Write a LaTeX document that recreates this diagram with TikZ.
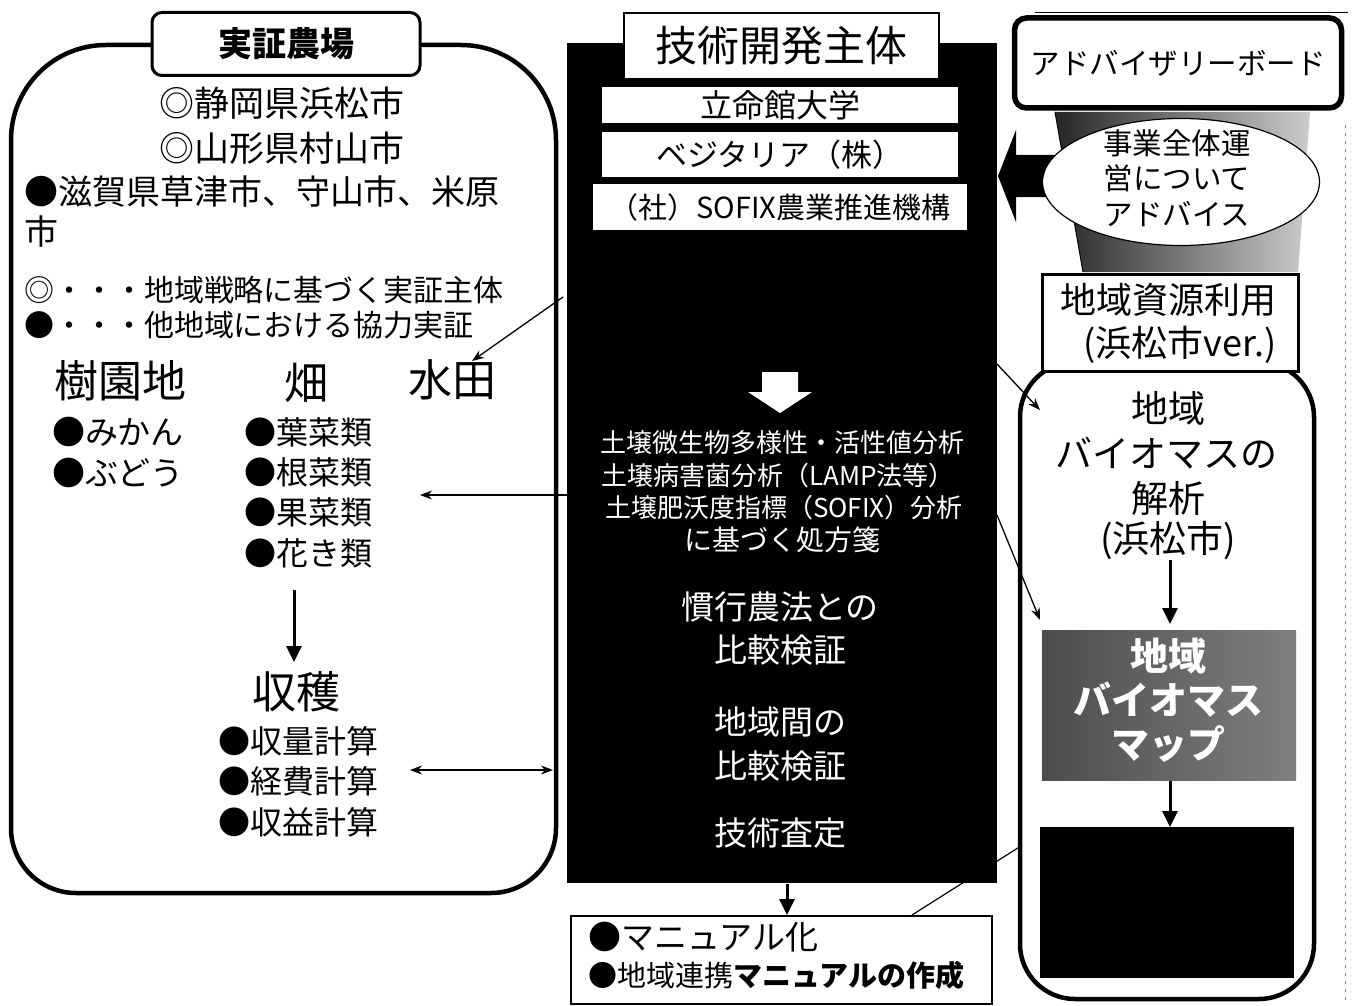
\documentclass[tikz,border=0pt]{standalone}
\usepackage{fontspec}
\setmainfont{Noto Sans CJK JP}
\usetikzlibrary{arrows.meta,shapes.geometric}
\newcommand\fsz[1]{\fontsize{#1}{#1}\selectfont}
\newcommand\fszb[2]{\fontsize{#1}{#2}\selectfont}
\tikzset{
  txt/.style={inner sep=0pt, outer sep=0pt},
  wtxt/.style={txt, text=white},
  thinarrow/.style={line width=1.3pt, -{Stealth[length=12pt,width=9pt]}},
  dblarrow/.style={line width=1.3pt, {Stealth[length=12pt,width=9pt]}-{Stealth[length=12pt,width=9pt]}},
  thickarrow/.style={line width=3pt, -{Triangle[length=16pt,width=15pt]}},
  whitebar/.style={fill=white, inner sep=0pt, minimum width=356pt},
}
\begin{document}
\begin{tikzpicture}[x=1pt,y=-1pt]
\path[use as bounding box, fill=white] (0,0) rectangle (1358,1006);

% decorations at the right margin
\coordinate (topL) at (1035,12);
\coordinate (topR) at (1348,12);
\draw[line width=0.8pt] (topL) -- (topR);
\coordinate (dotT) at (1345,125);
\coordinate (dotB) at (1345,1000);
\draw[black!45, line width=0.8pt, dash pattern=on 3pt off 5pt] (dotT) -- (dotB);

% line from manual box to right box (partly hidden by the black box)
\coordinate (lnA) at (912,915);
\coordinate (lnB) at (1021,846);
\draw[line width=1.2pt] (lnA) -- (lnB);

% ===== left box =====
\draw[line width=4.5pt] (11,470) [rounded corners=95pt] -- (11,45) -- (556,45) [rounded corners=65pt] -- (556,893) -- (11,893) -- cycle;
\node[draw, line width=3pt, rounded corners=10pt, fill=white, minimum width=268pt, minimum height=63pt, inner sep=0pt, font=\fsz{34}\bfseries] (farm) at (286,44) {実証農場};

\node[txt, font=\fsz{35}] (t1) at (282,103) {◎静岡県浜松市};
\node[txt, font=\fsz{35}] (t2) at (282,148) {◎山形県村山市};
\node[txt, font=\fsz{34}, anchor=west] (t3) at (24,192) {●滋賀県草津市、守山市、米原};
\node[txt, font=\fsz{34}, anchor=west] (t4) at (24,232) {市};
\node[txt, font=\fsz{30}, anchor=west] (t5) at (24,290) {◎・・・地域戦略に基づく実証主体};
\node[txt, font=\fsz{30}, anchor=west] (t6) at (24,325) {●・・・他地域における協力実証};

\node[txt, font=\fsz{44}] (orchard) at (120,381) {樹園地};
\node[txt, font=\fsz{44}] (field) at (306,383) {畑};
\node[txt, font=\fsz{44}] (paddy) at (452,380) {水田};

\node[txt, font=\fsz{33}, anchor=west] (c1) at (52,432) {●みかん};
\node[txt, font=\fsz{33}, anchor=west] (c2) at (52,473) {●ぶどう};
\node[txt, font=\fsz{32}, anchor=west] (v1) at (244,432) {●葉菜類};
\node[txt, font=\fsz{32}, anchor=west] (v2) at (244,472) {●根菜類};
\node[txt, font=\fsz{32}, anchor=west] (v3) at (244,512) {●果菜類};
\node[txt, font=\fsz{32}, anchor=west] (v4) at (244,553) {●花き類};

\node[txt, font=\fsz{44}] (harvest) at (296,692) {収穫};
\node[txt, font=\fsz{32}, anchor=west] (h1) at (218,741) {●収量計算};
\node[txt, font=\fsz{32}, anchor=west] (h2) at (218,781) {●経費計算};
\node[txt, font=\fsz{32}, anchor=west] (h3) at (218,822) {●収益計算};

\coordinate (fA) at (294,590);
\coordinate (fB) at (294,662);
\draw[thickarrow] (fA) -- (fB);

% ===== central black box =====
\node[fill=black, minimum width=430pt, minimum height=840pt, anchor=north west, inner sep=0pt] (tech) at (567,43) {};
\node[draw, line width=2pt, fill=white, minimum width=315pt, minimum height=66pt, inner sep=0pt, font=\fsz{42}] (techtitle) at (781,46) {技術開発主体};
\node[whitebar, minimum height=36pt, font=\fsz{32}] (rits) at (780,105) {立命館大学};
\node[whitebar, minimum height=45pt, font=\fsz{31}] (vegi) at (780,155) {ベジタリア（株）};
\node[whitebar, minimum width=374pt, minimum height=46pt, font=\fsz{29}] (sofix) at (780,207) {（社）SOFIX農業推進機構};

\fill[white] (762,372) -- (798,372) -- (798,392) -- (812,392) -- (780,413) -- (748,392) -- (762,392) -- cycle;

\node[wtxt, font=\fsz{26}] (w1) at (782,443) {土壌微生物多様性・活性値分析};
\node[wtxt, font=\fsz{26}] (w2) at (778,476) {土壌病害菌分析（LAMP法等）};
\node[wtxt, font=\fsz{26}] (w3) at (784,508) {土壌肥沃度指標（SOFIX）分析};
\node[wtxt, font=\fsz{28}] (w4) at (782,540) {に基づく処方箋};
\node[wtxt, font=\fsz{33}] (w5) at (780,607) {慣行農法との};
\node[wtxt, font=\fsz{33}] (w6) at (780,650) {比較検証};
\node[wtxt, font=\fsz{33}] (w7) at (780,722) {地域間の};
\node[wtxt, font=\fsz{33}] (w8) at (780,766) {比較検証};
\node[wtxt, font=\fsz{33}] (w9) at (780,833) {技術査定};

% arrows from the black box to the left
\coordinate (pA) at (563,297);
\coordinate (pB) at (472,361);
\draw[thinarrow] (pA) -- (pB);
\coordinate (vA) at (567,495);
\coordinate (vB) at (420,495);
\draw[thinarrow] (vA) -- (vB);
\coordinate (dA) at (410,770);
\coordinate (dB) at (553,770);
\draw[dblarrow] (dA) -- (dB);

% manual box
\node[draw, line width=1.5pt, fill=white, minimum width=421pt, minimum height=88pt, anchor=north west, inner sep=0pt] (manual) at (570,915) {};
\node[txt, font=\fsz{33}, anchor=west] (m1) at (588,937) {●マニュアル化};
\node[txt, font=\fsz{29}, anchor=west] (m2) at (588,975) {●地域連携{\bfseries マニュアルの作成}};
\coordinate (mA) at (787,884);
\draw[thickarrow] (mA) -- (manual.north -| mA);

% ===== right column =====
\shade[left color=black!85, right color=black!20] (1055,112) -- (1310,112) -- (1298,272) -- (1083,272) -- cycle;
\draw[line width=1pt] (1055,112) -- (1083,272);

\node[draw, line width=5.5pt, rounded corners=12pt, fill=white, minimum width=327pt, minimum height=90pt, inner sep=0pt, font=\fsz{29.5}] (adv) at (1178,63) {アドバイザリーボード};

\fill[black] (1062,155) -- (1016,155) -- (1016,130) -- (998,176) -- (1016,222) -- (1016,197) -- (1062,197) -- cycle;

\node[ellipse, draw, line width=1.2pt, fill=white, minimum width=277pt, minimum height=127pt, inner sep=0pt] (advice) at (1181,182) {};
\node[txt, font=\fszb{29.5}{35.5}, align=center] (advtext) at (1177,178) {事業全体運\\営について\\アドバイス};

% right rounded box
\draw[line width=4.5pt, rounded corners=55pt] (1020,362) rectangle (1314,999);
\node[draw, line width=3pt, fill=white, minimum width=256pt, minimum height=97pt, inner sep=0pt] (res) at (1170,323) {};
\node[txt, font=\fsz{36}] (r1) at (1168,300) {地域資源利用};
\node[txt, font=\fsz{36}] (r2) at (1180,345) {(浜松市ver.)};

\node[txt, font=\fsz{37}] (b1) at (1168,408) {地域};
\node[txt, font=\fsz{37}] (b2) at (1166,453) {バイオマスの};
\node[txt, font=\fsz{37}] (b3) at (1168,498) {解析};
\node[txt, font=\fsz{37}] (b4) at (1168,540) {(浜松市)};

\coordinate (bA) at (1170,560);
\coordinate (bB) at (1170,624);
\draw[thickarrow] (bA) -- (bB);

\node[left color=black!70, right color=black!50, minimum width=254pt, minimum height=150pt, anchor=north west, inner sep=0pt] (map) at (1042,630) {};
\node[txt, text=white, font=\fszb{38}{44}\bfseries, align=center] (maptext) at (1168,700) {地域\\バイオマス\\マップ};

\coordinate (kA) at (1170,781);
\coordinate (kB) at (1170,827);
\draw[thickarrow] (kA) -- (kB);
\node[fill=black, minimum width=254pt, minimum height=151pt, anchor=north west, inner sep=0pt] (blackrect) at (1040,827) {};

% thin arrows from the black box to the right box
\coordinate (rA) at (997,364);
\coordinate (rB) at (1040,410);
\draw[thinarrow] (rA) -- (rB);
\coordinate (sA) at (997,515);
\coordinate (sB) at (1040,620);
\draw[thinarrow] (sA) -- (sB);
\end{tikzpicture}
\end{document}
